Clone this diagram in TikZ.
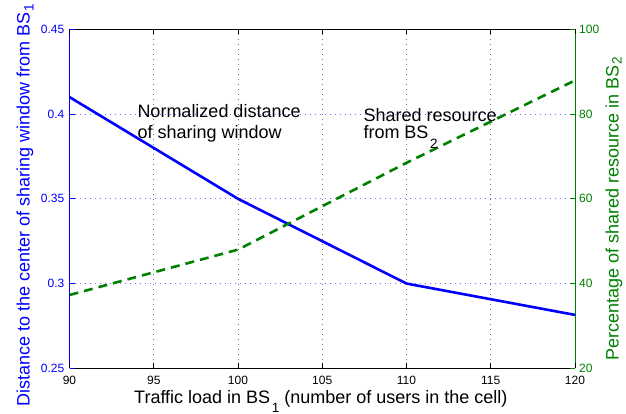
\documentclass[tikz,border=0pt]{standalone}
\usepackage{fontspec}
\setmainfont{Liberation Sans}
\definecolor{mblue}{RGB}{0,0,255}
\definecolor{mgreen}{RGB}{0,128,0}
% lowered subscript: #1 = drop below the baseline, #2 = text
\newcommand\dropsub[2]{\kern1.5pt\raisebox{-#1}{\fontsize{13.5}{13.5}\selectfont #2}}
\tikzset{
  axisline/.style={line width=1pt},
  tickmark/.style={line width=0.8pt},
  vgrid/.style={black!55, line width=0.7pt, dash pattern=on 0.8pt off 4.2pt},
  hgrid/.style={mblue!55, line width=0.7pt, dash pattern=on 0.8pt off 4.2pt},
  bluecurve/.style={mblue, line width=2.6pt, line join=round},
  greencurve/.style={mgreen, line width=2.6pt, dash pattern=on 9pt off 6pt},
  ticklab/.style={inner sep=0pt, font=\fontsize{12}{14}\selectfont},
  axlab/.style={inner sep=0pt, font=\fontsize{18}{21}\selectfont},
}
\begin{document}
\begin{tikzpicture}[x=1pt,y=-1pt]
\useasboundingbox (0,0) rectangle (626,414);

% plot frame corners
\coordinate (tl) at (69.5,29.3);
\coordinate (tr) at (575,29.3);
\coordinate (bl) at (69.5,368.3);
\coordinate (br) at (575,368.3);

% grid lines
\foreach \x in {153.75,238,322.25,406.5,490.75}
  \draw[vgrid] (\x,29.3) -- (\x,368.3);
\foreach \y in {114.05,198.8,283.55}
  \draw[hgrid] (69.5,\y) -- (575,\y);

% normalized distance (left axis)
\coordinate (b90)  at (69.5,97.1);
\coordinate (b100) at (238,198.8);
\coordinate (b110) at (406.5,283.55);
\coordinate (b120) at (575,314.9);
\draw[bluecurve] (b90) -- (b100) -- (b110) -- (b120);

% shared resource (right axis)
\coordinate (g90)  at (69.5,295.0);
\coordinate (g100) at (238,249.65);
\coordinate (g110) at (406.5,162.8);
\coordinate (g120) at (575,80.4);
\draw[greencurve] (g90) -- (g100) -- (g110) -- (g120);

% axes
\draw[axisline, black] (tl) -- (tr);
\draw[axisline, black] (bl) -- (br);
\draw[axisline, mblue] (bl) -- (tl);
\draw[axisline, mgreen] (br) -- (tr);

% x ticks and labels
\foreach \x/\lab in {69.5/90,153.75/95,238/100,322.25/105,406.5/110,490.75/115,575/120}{
  \draw[tickmark, black] (\x,368.3) -- ++(0,-5);
  \draw[tickmark, black] (\x,29.3) -- ++(0,5);
  \node[ticklab, anchor=base] (xt\lab) at (\x,384) {\lab};
}

% left y ticks and labels
\foreach \y/\lab/\nm in {368.3/0.25/a,283.55/0.3/b,198.8/0.35/c,114.05/0.4/d,29.3/0.45/e}{
  \draw[tickmark, mblue] (69.5,\y) -- ++(5,0);
  \node[ticklab, text=mblue, anchor=east] (yl\nm) at (64.5,\y) {\lab};
}

% right y ticks and labels
\foreach \y/\lab in {368.3/20,283.55/40,198.8/60,114.05/80,29.3/100}{
  \draw[tickmark, mgreen] (575,\y) -- ++(-5,0);
  \node[ticklab, text=mgreen, anchor=west] (yr\lab) at (579,\y) {\lab};
}

% axis labels
\node[axlab, anchor=base west] (xlabel) at (134,403)
  {Traffic load in BS\dropsub{9.3pt}{1} (number of users in the cell)};
\node[axlab, text=mblue, anchor=base west, rotate=90] (ylabel) at (29.5,407)
  {Distance to the center of sharing window from BS\dropsub{4pt}{1}};
\node[axlab, text=mgreen, anchor=base west, rotate=90] (y2label) at (618.5,361)
  {Percentage of shared resource in BS\dropsub{3pt}{2}};

% curve annotations
\node[axlab, anchor=base west] (noteblue) at (137.3,117.7)
  {\fontsize{18}{21.3}\selectfont\vtop{\hbox{Normalized distance}\hbox{of sharing window}}};
\node[axlab, anchor=base west] (notegreen) at (363.3,121.3)
  {\fontsize{18}{17.7}\selectfont\vtop{\hbox{Shared resource}\hbox{from BS\dropsub{9.3pt}{2}}}};
\end{tikzpicture}
\end{document}
